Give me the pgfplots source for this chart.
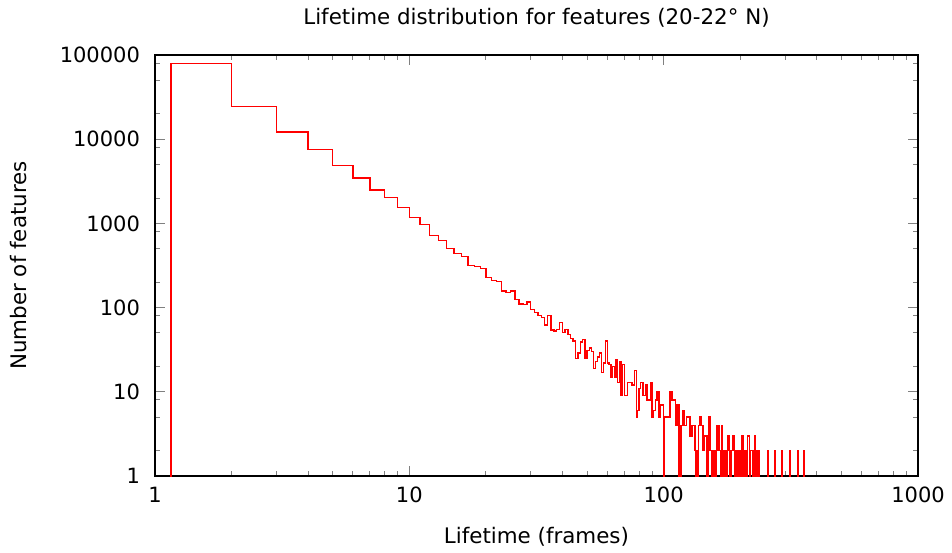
\documentclass[border=0pt]{standalone}
\usepackage{fontspec}
\setmainfont{DejaVu Sans}
\usepackage{pgfplots}
\pgfplotsset{compat=1.18}
\definecolor{gpred}{RGB}{255,0,0}

\begin{document}
\begin{tikzpicture}
\fill[white] (0,0) rectangle (476pt,276pt);
\path[use as bounding box] (0,0) rectangle (476pt,276pt);
\begin{axis}[
    at={(77.5pt,38pt)}, anchor=south west,
    scale only axis,
    width=381.5pt, height=210.5pt,
    xmode=log, ymode=log,
    xmin=1, xmax=1000,
    ymin=1, ymax=100000,
    xtick={1,10,100,1000},
    xticklabels={1,10,100,1000},
    ytick={1,10,100,1000,10000,100000},
    yticklabels={1,10,100,1000,10000,100000},
    minor xtick={2,3,4,5,6,7,8,9,20,30,40,50,60,70,80,90,200,300,400,500,600,700,800,900},
    minor ytick={2,5,8,20,50,80,200,500,800,2000,5000,8000,20000,50000,80000},
    tick align=inside,
    major tick length=5pt,
    minor tick length=2.5pt,
    tick style={line width=0.5pt},
    axis line style={line width=0.6pt},
    font=\fontsize{10.7}{12.5}\selectfont,
    tick label style={font=\fontsize{10.5}{12.5}\selectfont},
    /pgf/number format/assume math mode=true,
    xticklabel style={yshift=-2pt},
    yticklabel style={xshift=-4pt},
    title={Lifetime distribution for features (20-22° N)},
    title style={at={(axis description cs:0.5,1.0736)}, anchor=base, yshift=-6pt},
    xlabel={Lifetime (frames)},
    xlabel style={at={(axis description cs:0.5,-0.1615)}, anchor=base},
    ylabel={Number of features},
    ylabel style={at={(axis description cs:-0.1678,0.5)}, anchor=base},
]
\addplot[const plot, color=gpred, line width=0.7pt, mark=none] coordinates {
(1.1,0.5)(1.156,79000)(2,24300)(3,12200)(4,7500)(5,4840)(6,3460)(7,2490)(8,2020)(9,1540)
(10,1170)(11,966)(12,720)(13,630)(14,506)(15,437)(16,406)(17,315)(18,308)(19,293)
(20,226)(21,210)(22,205)(23,157)(24,150)(25,157)(26,125)(27,110)(28,108)(29,117)
(30,95)(31,87)(32,80)(33,76)(34,62)(35,80)(36,54)(37,53)(38,55)(39,67)
(40,51)(41,55)(42,48)(43,43)(44,40)(45,25)(46,29)(47,39)(48,42)(49,25)
(50,31)(51,33)(52,30)(53,19)(54,23)(55,26)(56,29)(57,17)(58,22)(59,40)
(60,22)(61,21)(62,15)(63,20)(64,15)(65,24)(66,13)(67,23)(68,9)(69,21)
(70,9)(71,9)(72,13)(73,13)(74,13)(75,12)(76,12)(77,18)(78,5)(79,6)
(80,11)(81,13)(82,13)(83,9)(84,9)(85,12)(86,8)(87,8)(88,8)(89,13)
(90,5)(91,6)(92,6)(93,8)(94,10)(95,10)(96,5)(97,7)(98,7)(99,7)
(100,0.5)(101,5)(106,10)(108,8)(111,4)(113,7)(115,0.5)(117,4)(119,6)(121,4)
(123,5)(127,3)(129,4)(133,2)(134,0.5)(135,2)(136,0.5)(137,4)(139,5)(141,4)
(143,2)(145,3)(148,0.5)(150,5)(151,2)(152,5)(153,2)(154,0.5)(155,2)(157,0.5)
(158,2)(160,0.5)(161,4)(162,2)(163,4)(165,2)(167,0.5)(168,2)(169,4)(170,0.5)
(171,2)(172,0.5)(173,2)(174,0.5)(175,2)(177,0.5)(178,2)(179,3)(181,0.5)(182,2)
(184,0.5)(185,2)(187,3)(189,2)(190,0.5)(191,2)(193,0.5)(194,2)(196,0.5)(199,2)
(200,0.5)(202,3)(204,0.5)(205,3)(206,2)(209,0.5)(210,2)(212,0.5)(213,2)(214,3)
(217,0.5)(218,2)(219,0.5)(220,2)(223,0.5)(224,2)(225,0.5)(226,2)(227,0.5)(228,3)
(230,0.5)(231,2)(233,0.5)(234,2)(235,0.5)(237,2)(238,0.5)(257,2)(258,0.5)(274,2)
(275,0.5)(291,2)(292,0.5)(314,2)(315,0.5)(338,2)(339,0.5)(356,2)(357,0.5)(400,0.5)
};
\end{axis}
\end{tikzpicture}
\end{document}
